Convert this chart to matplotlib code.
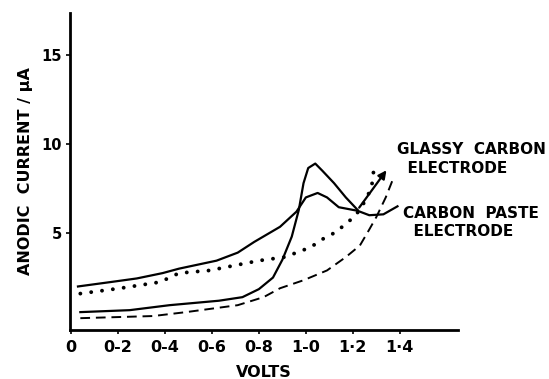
import numpy as np
import matplotlib.pyplot as plt

# volts / anodic current (uA)
gc_v = [0.04, 0.25, 0.42, 0.63, 0.73, 0.80, 0.86, 0.90, 0.94, 0.97, 0.99, 1.01,
        1.04, 1.07, 1.12, 1.17, 1.22]
gc_i = [0.56, 0.67, 0.95, 1.20, 1.40, 1.85, 2.50, 3.50, 4.80, 6.30, 7.80, 8.65,
        8.90, 8.50, 7.80, 7.00, 6.30]
gc_arrow = [(1.22, 6.3), (1.35, 8.65)]

gc_bg_v = [0.04, 0.35, 0.49, 0.71, 0.82, 0.89, 0.99, 1.09, 1.17, 1.23, 1.27, 1.30,
           1.34, 1.37]
gc_bg_i = [0.22, 0.34, 0.56, 0.95, 1.40, 1.90, 2.35, 2.90, 3.65, 4.30, 5.20, 5.90,
           7.00, 8.00]

cp_v = [0.03, 0.17, 0.28, 0.39, 0.46, 0.62, 0.71, 0.78, 0.89, 0.96, 1.00, 1.05,
        1.09, 1.14, 1.22, 1.27, 1.33, 1.39]
cp_i = [2.00, 2.25, 2.45, 2.75, 3.00, 3.45, 3.90, 4.50, 5.35, 6.20, 7.00, 7.25,
        7.00, 6.45, 6.25, 6.00, 6.05, 6.50]

cp_bg_v = [0.04, 0.21, 0.38, 0.46, 0.59, 0.80, 0.91, 1.02, 1.07, 1.12, 1.16, 1.20,
           1.23, 1.26, 1.28, 1.29]
cp_bg_i = [1.60, 1.90, 2.25, 2.75, 2.90, 3.45, 3.65, 4.20, 4.65, 5.00, 5.40, 5.85,
           6.30, 7.00, 7.60, 8.65]

xticks = [0, 0.2, 0.4, 0.6, 0.8, 1.0, 1.2, 1.4]
xticklabels = ['0', '0-2', '0-4', '0-6', '0-8', '1-0', '1·2', '1·4']
yticks = [5, 10, 15]

plt.rcParams['font.family'] = ['DejaVu Sans']

fig = plt.figure(figsize=(5.49, 3.79), dpi=100)
ax = fig.add_axes([0.1275, 0.129, 0.7065, 0.837])

ax.plot(gc_v, gc_i, color='black', lw=1.6, solid_joinstyle='round')
ax.annotate('', xy=gc_arrow[1], xytext=gc_arrow[0],
            arrowprops=dict(arrowstyle='-|>', color='black', lw=1.6,
                            mutation_scale=12))
ax.plot(gc_bg_v, gc_bg_i, color='black', lw=1.4, linestyle=(0, (5, 3)))
ax.plot(cp_v, cp_i, color='black', lw=1.6, solid_joinstyle='round')
ax.plot(cp_bg_v, cp_bg_i, color='black', lw=2.8, linestyle=(0, (0.01, 2.8)),
        dash_capstyle='round')

ax.set_xlim(-0.004, 1.647)
ax.set_ylim(-0.45, 17.36)
for s in ['top', 'right']:
    ax.spines[s].set_visible(False)
for s in ['left', 'bottom']:
    ax.spines[s].set_linewidth(2)
ax.set_xticks(xticks)
ax.set_xticklabels(xticklabels)
ax.set_yticks(yticks)
ax.tick_params(length=3, width=1.2, labelsize=11.5, pad=4)
ax.tick_params(axis='y', labelsize=10.5, pad=3)
for t in ax.get_xticklabels() + ax.get_yticklabels():
    t.set_fontweight('bold')

ax.set_xlabel('VOLTS', fontsize=11.5, fontweight='bold', labelpad=7)
ax.set_ylabel('ANODIC  CURRENT / μA', fontsize=11.5, fontweight='bold', labelpad=6)

ax.text(1.387, 9.15, 'GLASSY  CARBON\n  ELECTRODE', fontsize=11, fontweight='bold',
        va='center', ha='left', linespacing=1.3, clip_on=False)
ax.text(1.413, 5.6, 'CARBON  PASTE\n  ELECTRODE', fontsize=11, fontweight='bold',
        va='center', ha='left', linespacing=1.3, clip_on=False)

fig.savefig('out.png', dpi=100)
